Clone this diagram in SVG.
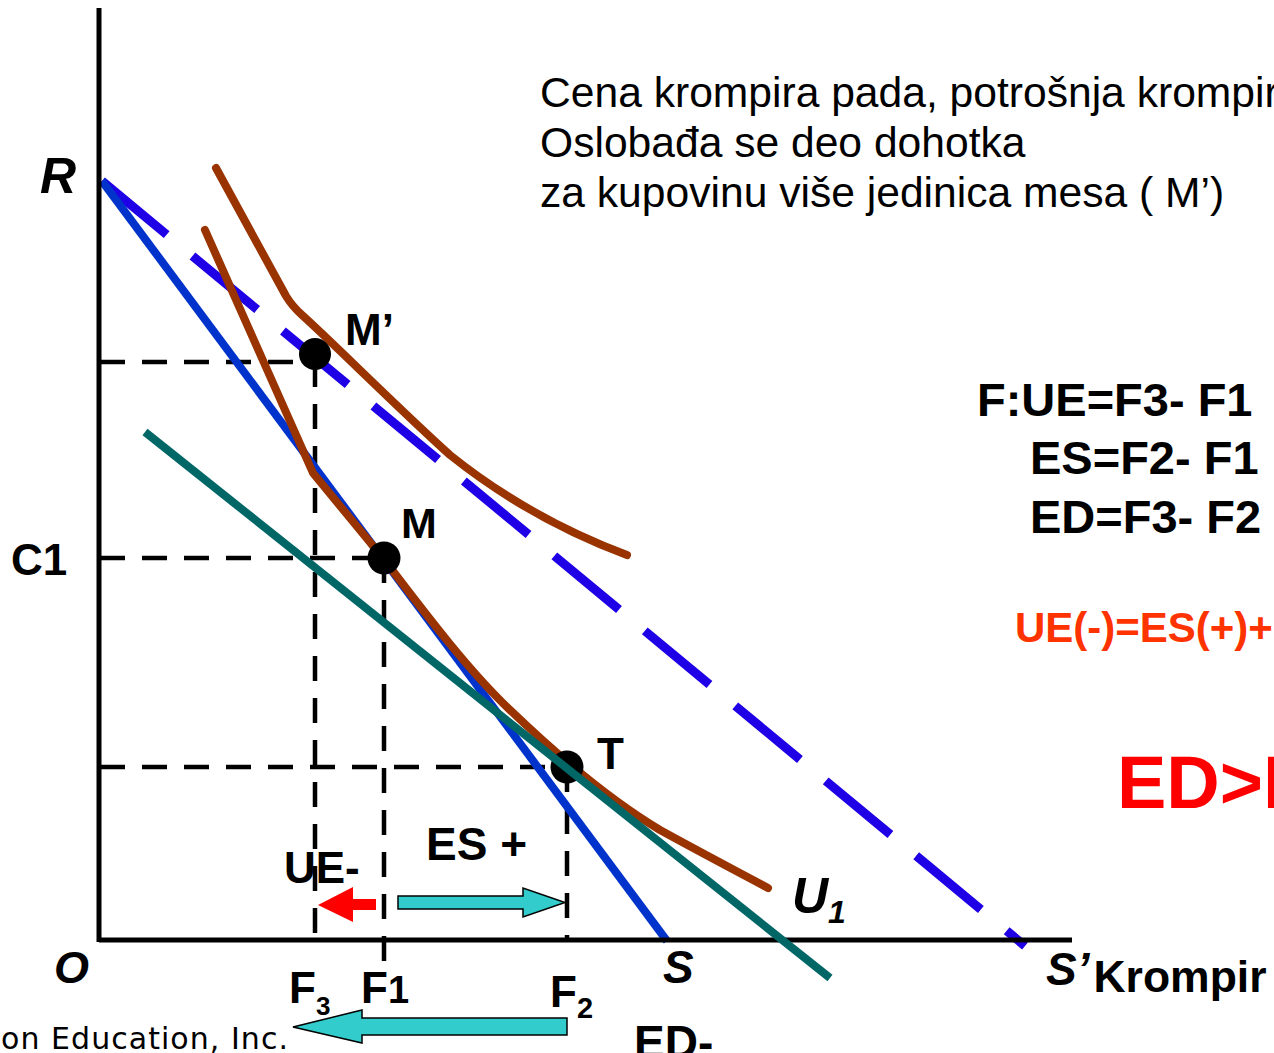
<svg xmlns="http://www.w3.org/2000/svg" width="1274" height="1053" viewBox="0 0 1274 1053">
<style>
.ax{stroke:#000;stroke-width:5;fill:none}
.dsh{stroke:#000;stroke-width:4.5;fill:none;stroke-dasharray:25 17}
.ic{stroke:#993300;stroke-width:8;fill:none;stroke-linecap:round;stroke-linejoin:round}
.bl{stroke:#0033CC;stroke-width:8;fill:none}
.bld{stroke:#1F00E6;stroke-width:9;fill:none;stroke-dasharray:84 33.5}
.tl{stroke:#006666;stroke-width:8;fill:none}
.cy{fill:#33CCCC;stroke:#000;stroke-width:1.5}
.b{font-family:"Liberation Sans",Arial,sans-serif;font-weight:bold;fill:#000}
.bi{font-family:"Liberation Sans",Arial,sans-serif;font-weight:bold;font-style:italic;fill:#000}
.n{font-family:"Liberation Sans",Arial,sans-serif;fill:#000}
</style>
<rect width="1274" height="1053" fill="#fff"/>
<g id="connectors">
  <g id="guides">
    <line class="dsh" x1="100" y1="362" x2="315" y2="362"/>
    <line class="dsh" x1="315" y1="362" x2="315" y2="940"/>
    <line class="dsh" x1="100" y1="558" x2="384" y2="558"/>
    <line class="dsh" x1="384" y1="558" x2="384" y2="967"/>
    <line class="dsh" x1="100" y1="767" x2="567" y2="767"/>
    <line class="dsh" x1="567" y1="767" x2="567" y2="940"/>
  </g>
  <line id="budget-new" class="bld" x1="102" y1="181" x2="1025" y2="946"/>
  <line id="budget-old" class="bl" x1="102" y1="181" x2="667" y2="941"/>
  <path id="U2" class="ic" d="M216,168 L286,296 Q292,306 302,315 C330,340 400,410 450,455 C500,495 560,530 627,555"/>
  <path id="U1" class="ic" d="M205,230 L313,473 L383,558 C430,620 470,672 510,710 C560,758 610,800 660,830 C700,852 740,873 768,888"/>
  <g id="axes">
    <line class="ax" x1="99" y1="8" x2="99" y2="942"/>
    <line class="ax" x1="99" y1="940" x2="1072" y2="940"/>
  </g>
</g>
<g id="point-Mp"><circle cx="315" cy="354" r="16" fill="#000"/><text class="b" x="345" y="345" font-size="44">M’</text></g>
<g id="point-M"><circle cx="384" cy="558" r="16.5" fill="#000"/><text class="b" x="401" y="538" font-size="43">M</text></g>
<g id="point-T"><circle cx="567" cy="767" r="16.5" fill="#000"/><text class="b" x="597" y="769" font-size="44">T</text></g>
<line id="compensated" class="tl" x1="145" y1="432" x2="830" y2="978"/>
<g id="arrows">
  <polygon id="arrow-UE" points="318,905 353,887 353,899 376,899 376,910 353,910 353,922" fill="#FF0000"/>
  <polygon id="arrow-ES" class="cy" points="398,896 523,896 523,888 565,902.5 523,917 523,909 398,909"/>
  <polygon id="arrow-ED" class="cy" points="293,1027 362,1010 362,1018 567,1018 567,1035 362,1035 362,1043"/>
</g>
<g id="labels">
  <text class="bi" x="40" y="193" font-size="50">R</text>
  <text class="bi" x="54" y="983" font-size="45">O</text>
  <text class="b" x="11" y="575" font-size="44">C1</text>
  <text class="bi" x="792" y="913" font-size="50">U<tspan font-size="32" dy="10">1</tspan></text>
  <text class="bi" x="663" y="983" font-size="46">S</text>
  <text class="bi" x="1046" y="985" font-size="46">S’<tspan class="b" font-style="normal" font-size="44.5" dx="4" dy="7">Krompir</tspan></text>
  <text class="b" x="289" y="1003" font-size="44">F<tspan font-size="26" dy="12">3</tspan></text>
  <text class="b" x="361" y="1003" font-size="44">F<tspan font-size="38">1</tspan></text>
  <text class="b" x="550" y="1007" font-size="44">F<tspan font-size="29" dy="11">2</tspan></text>
  <text class="b" x="284" y="883" font-size="44">UE-</text>
  <text class="b" x="426" y="860" font-size="46">ES +</text>
  <text class="b" x="634" y="1058" font-size="46">ED-</text>
  <text x="1" y="1049" font-size="30" textLength="287" lengthAdjust="spacing" font-family="'DejaVu Sans',Verdana,sans-serif" fill="#000">on Education, Inc.</text>
</g>
<g id="notes">
  <text class="n" x="540" y="107" font-size="42.6">Cena krompira pada, potrošnja krompir</text>
  <text class="n" x="540" y="157" font-size="42.6">Oslobađa se deo dohotka</text>
  <text class="n" x="540" y="207" font-size="42.6">za kupovinu više jedinica mesa ( M’)</text>
  <text class="b" x="977" y="416" font-size="47">F:UE=F3- F1</text>
  <text class="b" x="1030" y="474" font-size="47">ES=F2- F1</text>
  <text class="b" x="1030" y="533" font-size="47">ED=F3- F2</text>
  <text class="b" x="1015" y="642" font-size="42" style="fill:#FF3300">UE(-)=ES(+)+</text>
  <text class="b" x="1117" y="808" font-size="74" style="fill:#FF0000">ED&gt;ES</text>
</g>
</svg>
